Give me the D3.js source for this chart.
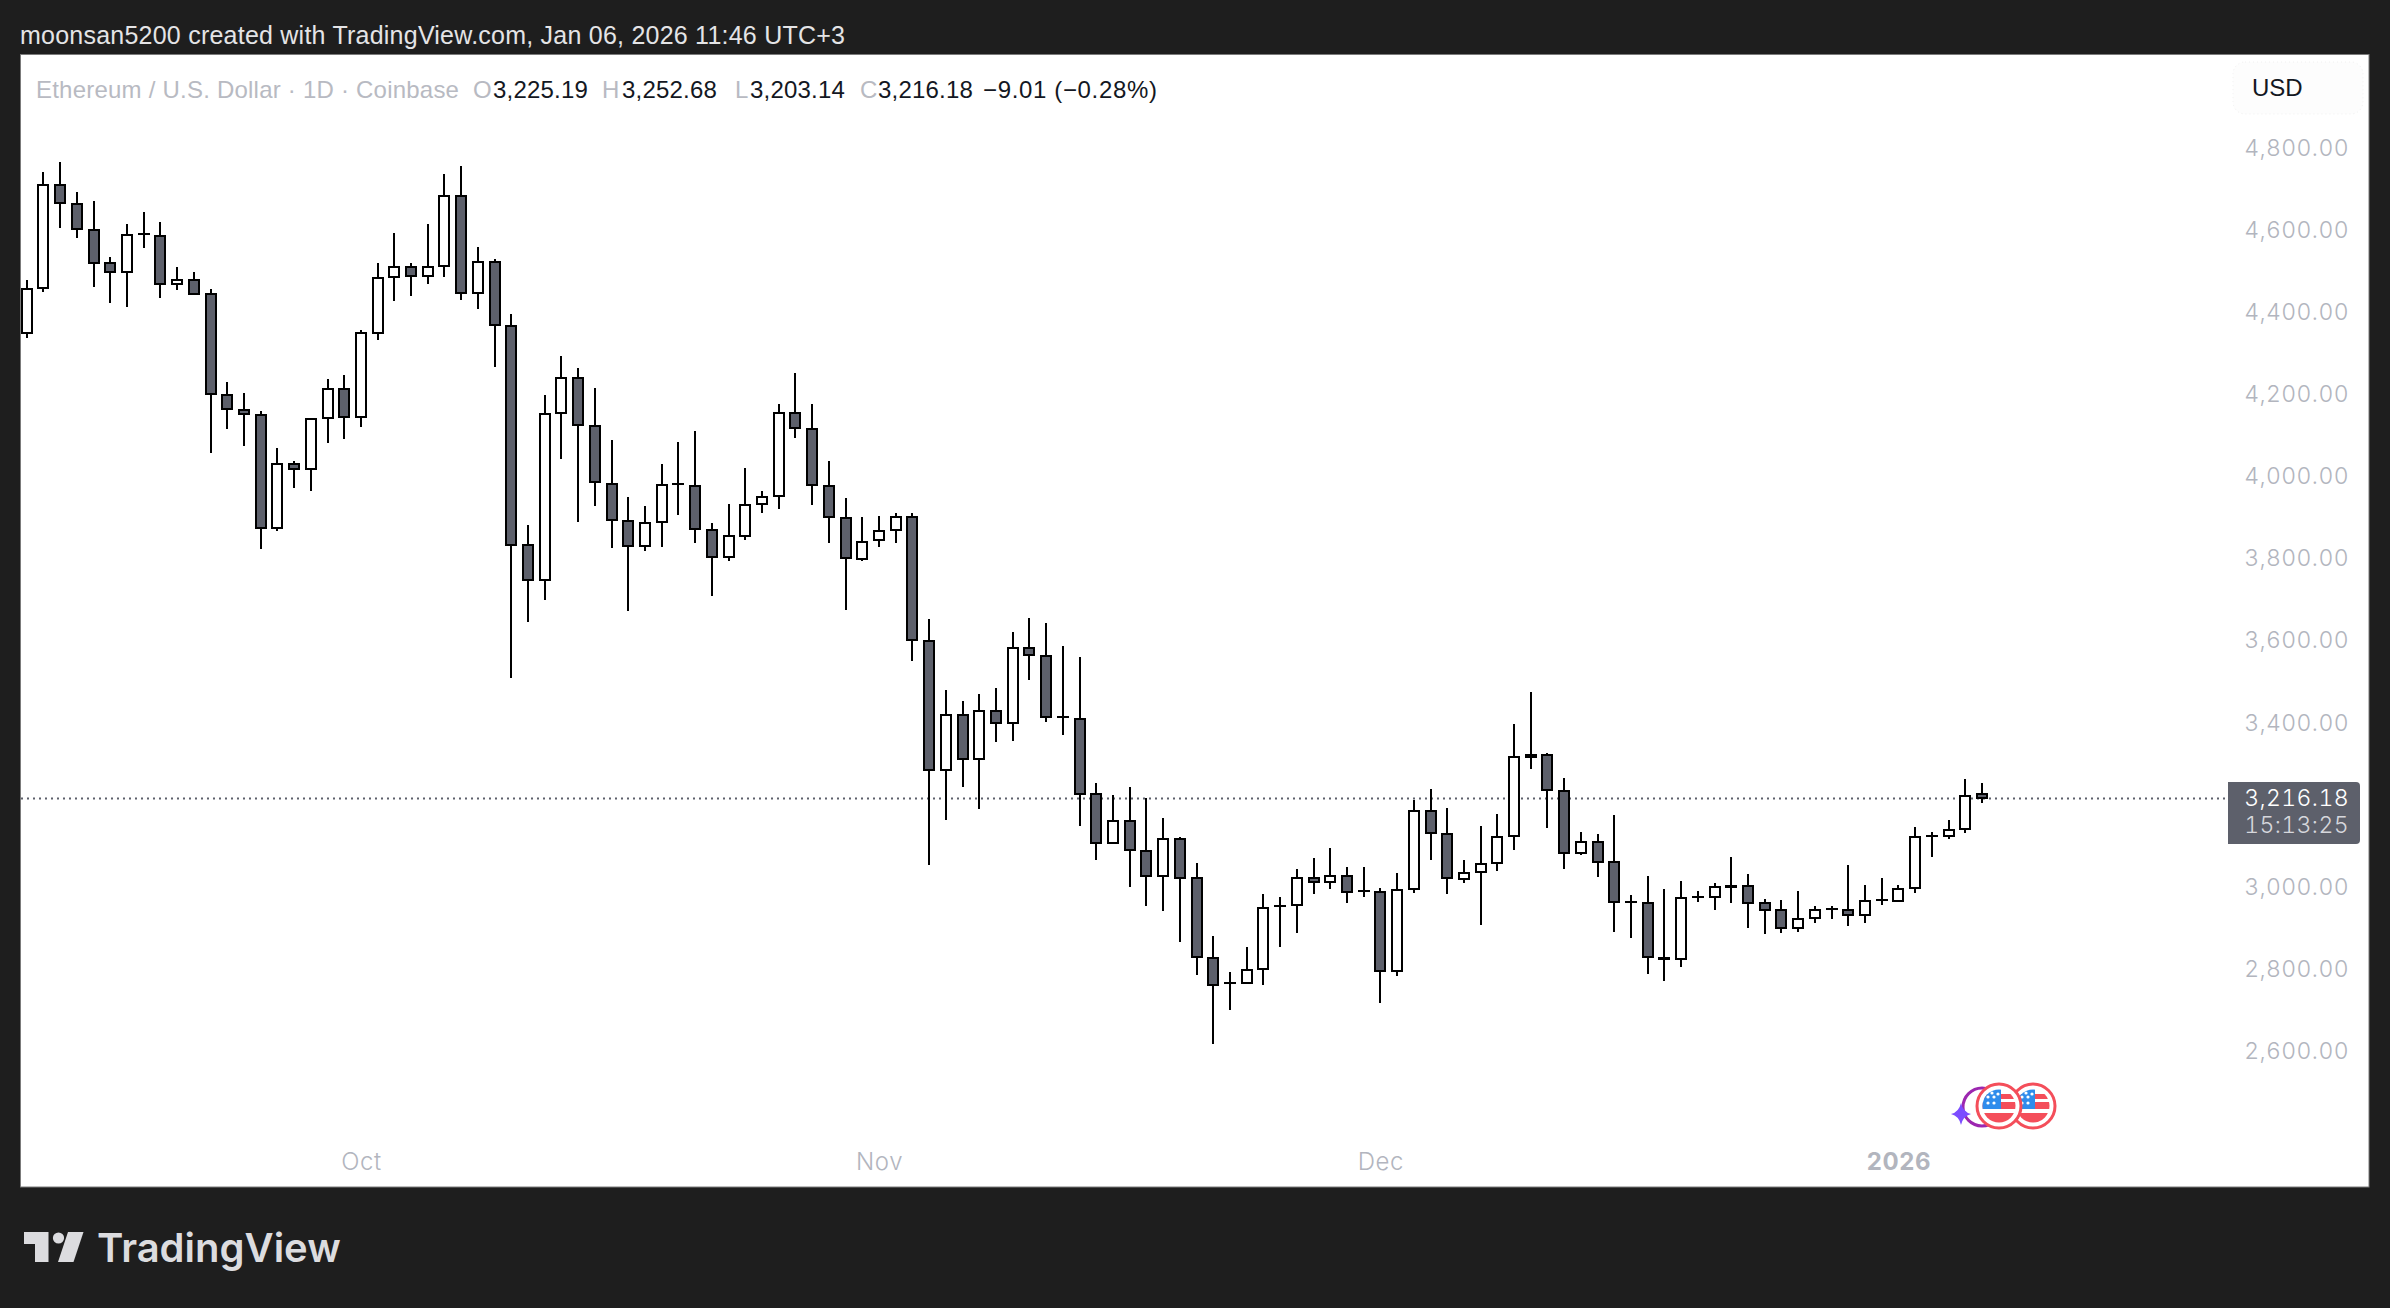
<!DOCTYPE html>
<html>
<head>
<meta charset="utf-8">
<script src="https://cdn.jsdelivr.net/npm/d3@7"></script>
<style>
  html, body { margin: 0; padding: 0; background: #1e1e1e; }
  svg { display: block; }
  text { font-family: "Liberation Sans", sans-serif; }
</style>
</head>
<body>
<script>
// ETHUSD daily (Sep 11 2025 .. Jan 6 2026)
const startDate = new Date(Date.UTC(2025, 8, 11));

const opens = [4349,4460,4712,4665,4602,4522,4500,4592,4587,4469,4479,4444,4200,4163,4151,3874,4031,4018,4143,4214,
  4145,4350,4487,4512,4489,4513,4683,4447,4524,4368,3834,3747,4154,4241,4123,3982,3892,3830,3889,3982,
  3977,3870,3803,3856,3932,3952,4156,4116,3977,3899,3800,3845,3869,3901,3599,3284,3419,3311,3429,3399,
  3581,3563,3414,3410,3226,3106,3161,3088,3026,3117,3020,2826,2765,2765,2799,2953,2955,3021,3012,3026,
  2990,2987,2794,2994,3185,3129,3018,3035,3057,3124,3322,3322,3234,3082,3110,3059,2963,2959,2827,2824,
  2976,2974,3002,3002,2959,2942,2898,2924,2946,2943,2930,2968,2964,2996,3124,3123,3140,3225.19];

const highs = [4479,4742,4766,4693,4671,4536,4617,4644,4620,4510,4498,4457,4230,4205,4159,4069,4039,4144,4237,4247,
  4357,4520,4593,4520,4617,4737,4757,4559,4530,4397,3883,4198,4293,4264,4215,4088,3949,3928,4030,4084,
  4110,3887,3932,4022,3964,4176,4252,4176,4037,3947,3901,3905,3912,3911,3652,3479,3452,3469,3484,3620,
  3655,3644,3586,3561,3252,3224,3242,3217,3167,3120,3057,2879,2793,2854,2981,2976,3042,3069,3095,3049,
  3049,2996,3033,3211,3237,3191,3064,3148,3176,3396,3474,3325,3264,3133,3128,3174,2979,3025,2994,3013,
  2989,3008,3072,3030,2971,2967,2989,2954,2954,3052,3003,3020,3003,3145,3133,3162,3262,3252.68];

const lows = [4339,4451,4607,4581,4463,4424,4414,4557,4436,4456,4445,4058,4117,4075,3824,3868,3973,3966,4083,4092,
  4122,4334,4429,4441,4470,4487,4431,4409,4266,3510,3646,3698,4044,3890,3929,3827,3673,3819,3829,3907,
  3838,3709,3795,3846,3912,3920,4095,3931,3837,3675,3795,3829,3837,3551,3054,3163,3242,3190,3353,3356,
  3505,3402,3371,3149,3066,3106,3000,2954,2941,2866,2785,2617,2700,2765,2761,2853,2886,2983,2994,2961,
  2975,2716,2781,2985,3066,2983,3010,2907,3039,3090,3288,3144,3044,3077,3024,2890,2876,2788,2771,2805,
  2963,2942,2961,2898,2885,2888,2890,2912,2922,2905,2912,2956,2964,2985,3073,3117,3132,3203.14];

const closes = [4458,4712,4666,4603,4522,4500,4590,4592,4470,4480,4445,4201,4164,4153,3874,4031,4018,4141,4214,4145,
  4349,4485,4512,4489,4512,4683,4447,4524,4370,3832,3747,4153,4241,4125,3986,3894,3830,3887,3980,3982,
  3872,3803,3855,3931,3950,4156,4119,3979,3901,3801,3841,3868,3901,3601,3284,3419,3311,3429,3399,3581,
  3564,3414,3414,3226,3106,3161,3089,3026,3117,3021,2829,2760,2765,2797,2949,2953,3021,3012,3027,2987,
  2990,2794,2993,3185,3130,3021,3034,3056,3122,3315,3315,3236,3082,3110,3059,2963,2963,2829,2824,2973,
  2976,2998,2999,2960,2943,2899,2922,2942,2946,2931,2966,2968,2995,3122,3124,3139,3222,3216.18];

const priceTicks = [4800,4600,4400,4200,4000,3800,3600,3400,3000,2800,2600];
const monthTicks = [new Date(Date.UTC(2025,9,1)), new Date(Date.UTC(2025,10,1)), new Date(Date.UTC(2025,11,1)), new Date(Date.UTC(2026,0,1))];
const monthLabels = ["Oct","Nov","Dec","2026"];

const lastPrice = 3216.18;
const countdown = "15:13:25";

const width = 2390, height = 1308;
const svg = d3.select("body").append("svg").attr("width", width).attr("height", height);

// outer frame
svg.append("rect").attr("width", width).attr("height", height).attr("fill", "#1e1e1e");
svg.append("rect")
  .attr("x", 20.5).attr("y", 54.5).attr("width", 2348.5).attr("height", 1132.5)
  .attr("fill", "#fff").attr("stroke", "#7b7b7b");

svg.append("text").attr("x", 20).attr("y", 44)
  .attr("fill", "#e4e4e6").attr("font-size", 25).attr("letter-spacing", 0.23)
  .text("moonsan5200 created with TradingView.com, Jan 06, 2026 11:46 UTC+3");

const candles = opens.map((o, i) => ({
  date: d3.utcDay.offset(startDate, i), o, h: highs[i], l: lows[i], c: closes[i]
}));

const x = d3.scaleUtc()
  .domain([startDate, d3.utcDay.offset(startDate, 117)])
  .range([26.7, 1982]);

const y = d3.scaleLinear()
  .domain([2600, 4800])
  .range([1050.7, 148.5]);

// axes
const yAxis = svg.append("g")
  .attr("transform", "translate(2349,0)")
  .call(d3.axisRight(y).tickValues(priceTicks).tickSize(0).tickPadding(0).tickFormat(d3.format(",.2f")));
yAxis.select(".domain").remove();
yAxis.selectAll("text")
  .attr("text-anchor", "end").attr("fill", "#b2b5be")
  .style("font-family", "Inter, sans-serif").style("font-variant-numeric", "tabular-nums")
  .attr("font-size", 23).attr("font-weight", 300).attr("letter-spacing", 0.4);

const xAxis = svg.append("g")
  .attr("transform", "translate(0,1153)")
  .call(d3.axisBottom(x).tickValues(monthTicks).tickSize(0).tickPadding(0)
    .tickFormat((d, i) => monthLabels[i]));
xAxis.select(".domain").remove();
xAxis.selectAll("text")
  .attr("fill", "#b2b5be")
  .style("font-family", "Inter, sans-serif").attr("font-size", 24).attr("letter-spacing", 0.6)
  .attr("font-weight", (d, i) => i === 3 ? 700 : 300);

// last price line
const lastY = Math.round(y(lastPrice)) + 0.5;
svg.append("line")
  .attr("x1", 21).attr("x2", 2228).attr("y1", lastY).attr("y2", lastY)
  .attr("stroke", "#5d606b").attr("stroke-width", 2).attr("stroke-dasharray", "2 4");

// candles
const bars = svg.append("g").selectAll("g").data(candles).join("g")
  .attr("transform", d => `translate(${Math.round(x(d.date))},0)`);

bars.append("line")
  .attr("y1", d => Math.round(y(d.h))).attr("y2", d => Math.round(y(d.l)))
  .attr("stroke", "#000").attr("stroke-width", 2);

bars.append("rect")
  .attr("x", -5).attr("width", 10)
  .attr("y", d => Math.round(y(Math.max(d.o, d.c))))
  .attr("height", d => Math.max(0.01, Math.round(y(Math.min(d.o, d.c))) - Math.round(y(Math.max(d.o, d.c)))))
  .attr("fill", d => d.c >= d.o ? "#fff" : "#5d606b")
  .attr("stroke", "#000").attr("stroke-width", 2);

// legend row
const legendGray = "#b8bac2", legendDark = "#131722";
const legendParts = [
  ["Ethereum / U.S. Dollar · 1D · Coinbase", 36, legendGray, 0.22],
  ["O", 473, legendGray, 0], ["3,225.19", 493, legendDark, 0.2],
  ["H", 602, legendGray, 0], ["3,252.68", 622, legendDark, 0.2],
  ["L", 735, legendGray, 0], ["3,203.14", 750, legendDark, 0.2],
  ["C", 860, legendGray, 0], ["3,216.18", 878, legendDark, 0.2],
  ["−9.01 (−0.28%)", 983, legendDark, 0.65]
];
svg.append("g").selectAll("text").data(legendParts).join("text")
  .attr("x", d => d[1]).attr("y", 98)
  .attr("font-size", 24).attr("fill", d => d[2]).attr("letter-spacing", d => d[3])
  .text(d => d[0]);

// currency button
svg.append("rect")
  .attr("x", 2233).attr("y", 62).attr("width", 130).attr("height", 52).attr("rx", 12)
  .attr("fill", "#fdfdfd").attr("stroke", "#f0f0f0").attr("stroke-dasharray", "1 3");
svg.append("text").attr("x", 2252).attr("y", 96).attr("font-size", 24).attr("fill", "#131722").text("USD");

// last price tag
svg.append("path")
  .attr("d", "M2228,782 H2356 a4,4 0 0 1 4,4 V840 a4,4 0 0 1 -4,4 H2228 Z")
  .attr("fill", "#5d606b");
svg.append("text").attr("x", 2349).attr("y", 806).attr("text-anchor", "end")
  .attr("fill", "#fff").attr("letter-spacing", 0.4).attr("font-weight", 300)
  .style("font-family", "Inter, sans-serif").style("font-variant-numeric", "tabular-nums")
  .attr("font-size", 23).text(d3.format(",.2f")(lastPrice));
svg.append("text").attr("x", 2349).attr("y", 833).attr("text-anchor", "end")
  .attr("fill", "#d6d7dc").attr("letter-spacing", 0.4).attr("font-weight", 300)
  .style("font-family", "Inter, sans-serif").style("font-variant-numeric", "tabular-nums")
  .attr("font-size", 23).text(countdown);

// event markers under the last candles
const defs = svg.append("defs");
defs.append("clipPath").attr("id", "flagClip").append("circle").attr("r", 16.5);

const markers = svg.append("g");
markers.append("circle").attr("cx", 1982).attr("cy", 1107).attr("r", 19)
  .attr("fill", "#fff").attr("stroke", "#9c27b0").attr("stroke-width", 3);
markers.append("path")
  .attr("transform", "translate(1961,1114)")
  .attr("d", "M0,-11 Q2,-2 10,0 Q2,2 0,11 Q-2,2 -10,0 Q-2,-2 0,-11 Z")
  .attr("fill", "#7c4dff");

function drawFlag(cx, cy) {
  const g = markers.append("g").attr("transform", `translate(${cx},${cy})`);
  g.append("circle").attr("r", 22).attr("fill", "#fff").attr("stroke", "#f44e5a").attr("stroke-width", 3);
  const inner = g.append("g").attr("clip-path", "url(#flagClip)");
  inner.append("rect").attr("x", -17).attr("y", -17).attr("width", 34).attr("height", 34).attr("fill", "#fff");
  inner.append("rect").attr("x", -17).attr("y", -12).attr("width", 34).attr("height", 5).attr("fill", "#f44e5a");
  inner.append("rect").attr("x", -17).attr("y", -4).attr("width", 34).attr("height", 7).attr("fill", "#f44e5a");
  inner.append("rect").attr("x", -17).attr("y", 7).attr("width", 34).attr("height", 12).attr("fill", "#f44e5a");
  inner.append("rect").attr("x", -17).attr("y", -17).attr("width", 19).attr("height", 20).attr("fill", "#2f8cec");
  [[-11,-3],[-5,-3],[-11,-9],[-5,-9],[-1,-12],[-7,-13]].forEach(p => {
    inner.append("circle").attr("cx", p[0]).attr("cy", p[1]).attr("r", 1.6).attr("fill", "#fff");
  });
}
drawFlag(2033, 1106);
drawFlag(1999, 1106);

// TradingView mark and word
const logo = svg.append("g").attr("fill", "#dcdcdf");
logo.append("path").attr("d", "M24,1232 H48.5 V1262 H35 V1244 H24 Z");
logo.append("circle").attr("cx", 58.5).attr("cy", 1238).attr("r", 5.6);
logo.append("path").attr("d", "M68,1232 H83.5 L73.5,1262 H58 Z");
logo.append("text").attr("x", 97).attr("y", 1262)
  .style("font-family", "Inter, sans-serif").attr("font-weight", 600).attr("font-size", 40)
  .text("TradingView");
</script>
</body>
</html>
